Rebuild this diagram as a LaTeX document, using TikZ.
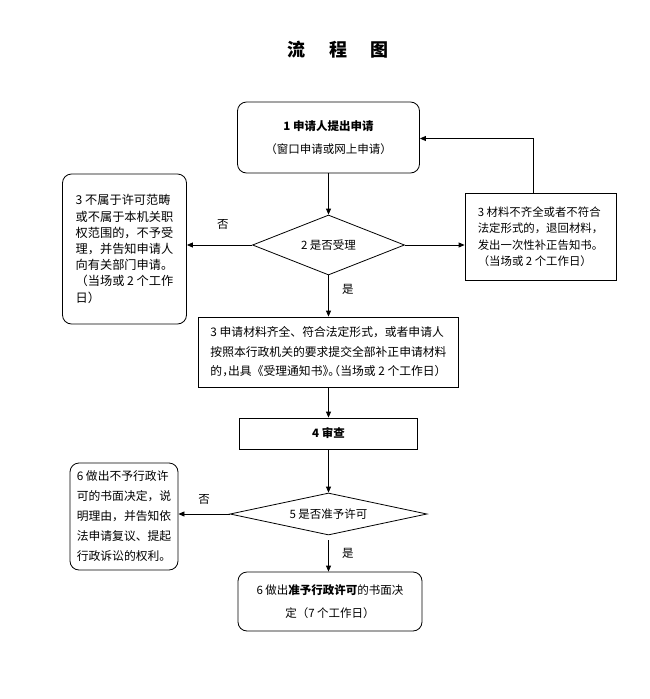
\documentclass[tikz,border=0pt]{standalone}
\usepackage{fontspec}
\setmainfont{Noto Sans CJK SC}
\usetikzlibrary{shapes.geometric,arrows.meta}

\newcommand\hwl[1]{\makebox[.5em][l]{#1}}
\newcommand\hwr[1]{\makebox[.5em][r]{#1}}

\tikzset{
  box/.style={draw,line width=.8pt,inner sep=0pt},
  rbox/.style={box,rounded corners=9pt},
  choice/.style={draw,line width=.8pt,diamond,aspect=2.5,inner sep=0pt},
  txt/.style={font=\fontsize{11.5}{16}\selectfont},
  link/.style={line width=.8pt,-{Triangle[length=6pt,width=5pt]}}
}

\begin{document}
\begin{tikzpicture}[x=1pt,y=-1pt]
\useasboundingbox (0,0) rectangle (650,699);
\node[font=\fontsize{18}{20}\selectfont\bfseries] (title) at (338,50) {流\hspace{1.3em}程\hspace{1.3em}图};
\node[rbox,minimum width=182pt,minimum height=71pt,align=center,font=\fontsize{11.5}{23}\selectfont] (apply) at (328.5,137.5) {\textbf{1 申请人提出申请}\\（窗口申请或网上申请）};
\node[choice,minimum width=152pt,minimum height=60pt,txt] (accept) at (328.5,245) {2 是否受理};
\node[rbox,minimum width=124pt,minimum height=150pt,align=left,font=\fontsize{12.2}{16.2}\selectfont] (reject) at (124.5,249) {3 不属于许可范畴\\或不属于本机关职\\权范围的，不予受\\理，并告知申请人\\向有关部门申请。\\（当场或 2 个工作\\日）};
\node[box,minimum width=151pt,minimum height=87pt,align=left,font=\fontsize{11.4}{16.5}\selectfont] (amend) at (540.5,236.5) {3 材料不齐全或者不符合\\法定形式的，退回材料，\\发出一次性补正告知书。\\（当场或 2 个工作日）};
\node[box,minimum width=260pt,minimum height=70pt,align=left,font=\fontsize{11.8}{19.5}\selectfont] (notice) at (328.5,352) {3 申请材料齐全、符合法定形式，或者申请人\\按照本行政机关的要求提交全部补正申请材料\\的\hwl{，}出具《受理通知书\hwl{》}\hwl{。}\hwr{（}当场或 2 个工作日）};
\node[box,minimum width=178pt,minimum height=31pt,font=\fontsize{11.5}{16}\selectfont\bfseries] (review) at (328.5,433.5) {4 审查};
\node[choice,minimum width=197pt,minimum height=42pt,txt] (grant) at (328.5,514) {5 是否准予许可};
\node[rbox,minimum width=108pt,minimum height=107pt,align=left,font=\fontsize{11.8}{20}\selectfont] (deny) at (124,516.5) {6 做出不予行政许\\可的书面决定，说\\明理由，并告知依\\法申请复议、提起\\行政诉讼的权利。};
\node[rbox,minimum width=184pt,minimum height=59pt,align=center,font=\fontsize{11.5}{23}\selectfont] (permit) at (330,601.5) {6 做出\textbf{准予行政许可}的书面决\\定（7 个工作日）};
\draw[link] (apply) -- (accept);
\draw[link] (accept.west) -- (accept.west -| reject.east) node[pos=.45,above=12pt,txt] (no1) {否};
\draw[link] (accept.east) -- (accept.east -| amend.west);
\draw[link] ([xshift=-7pt]amend.north) |- ([yshift=-1pt]apply.east);
\draw[link] (accept) -- (notice) node[pos=.35,right=10pt,txt] (yes1) {是};
\draw[link] (notice) -- (review);
\draw[link] (review) -- (grant);
\draw[link] (grant.west) -- (grant.west -| deny.east) node[pos=.5,above=6pt,txt] (no2) {否};
\draw[link,shorten <=5pt] (grant.south) -- (grant.south |- permit.north) node[pos=.5,right=10pt,txt] (yes2) {是};
\end{tikzpicture}
\end{document}
